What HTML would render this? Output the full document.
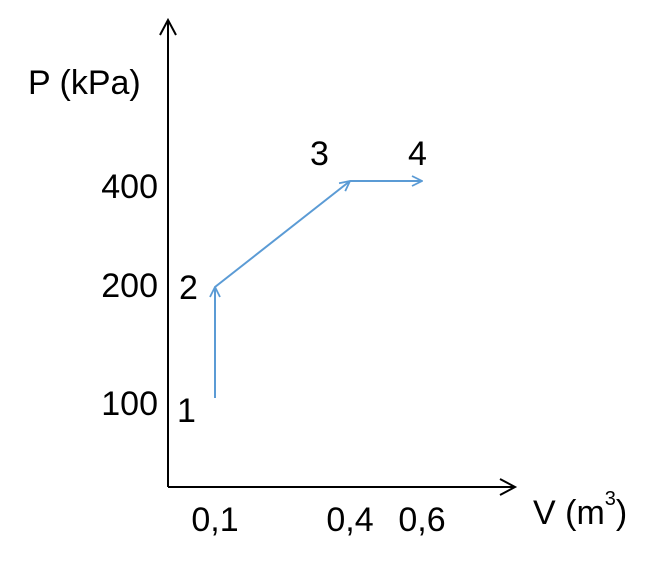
<!DOCTYPE html>
<html><head><meta charset="utf-8"><style>
html,body{margin:0;padding:0;background:#fff;}
svg{display:block;}
text{font-family:"Liberation Sans",sans-serif;font-size:34px;fill:#000;}
</style></head><body>
<svg id="chart" width="670" height="571" viewBox="0 0 670 571">
<defs>
<marker id="ah" viewBox="0 0 12 12" refX="11" refY="6" markerWidth="12" markerHeight="12" markerUnits="userSpaceOnUse" orient="auto">
<path d="M1,1 L11,6 L1,11" fill="none" stroke="#5b9bd5" stroke-width="1.8"/>
</marker>
</defs>
<g>
<line x1="168" y1="487" x2="168" y2="20" stroke="#000" stroke-width="2"/>
<path d="M160,35 L168,20 L176,35" fill="none" stroke="#000" stroke-width="2"/>
</g>
<g>
<line x1="168" y1="487" x2="515" y2="487" stroke="#000" stroke-width="2"/>
<path d="M500,479 L515,487 L500,495" fill="none" stroke="#000" stroke-width="2"/>
</g>
<text x="28" y="94">P (kPa)</text>
<text x="533" y="524">V (m<tspan dy="-19" font-size="20">3</tspan><tspan dy="19">)</tspan></text>
<g id="ticks"></g>
<g id="series"></g>
</svg>
<script>
const xTicks=[0.1,0.4,0.6];
const xTickLabels=["0,1","0,4","0,6"];
const yTicks=[100,200,400];
const yTickLabels=["100","200","400"];
const pointLabels=["1","2","3","4"];
const volumes=[0.1,0.1,0.4,0.6];
const pressures=[100,200,400,400];
const xPix=[215,350,422];
const yPix=[398,287,181];
function interp(v,ticks,pix){
  for(let i=0;i<ticks.length-1;i++){
    if(v<=ticks[i+1]||i===ticks.length-2){
      const t=(v-ticks[i])/(ticks[i+1]-ticks[i]);
      return pix[i]+t*(pix[i+1]-pix[i]);
    }
  }
  return pix[0];
}
const xScale=v=>interp(v,xTicks,xPix);
const yScale=v=>interp(v,yTicks,yPix);
const NS="http://www.w3.org/2000/svg";
const tg=document.getElementById('ticks');
xTicks.forEach((v,i)=>{
  const t=document.createElementNS(NS,'text');
  t.setAttribute('x',xScale(v));t.setAttribute('y',531);t.setAttribute('text-anchor','middle');
  t.textContent=xTickLabels[i];
  
  
  tg.appendChild(t);
});
const yOff=[17,10,17];
yTicks.forEach((v,i)=>{
  const t=document.createElementNS(NS,'text');
  t.setAttribute('x',158);t.setAttribute('y',yScale(v)+yOff[i]);t.setAttribute('text-anchor','end');
  t.textContent=yTickLabels[i];
  
  
  tg.appendChild(t);
});
const sg=document.getElementById('series');
for(let i=0;i<volumes.length-1;i++){
  const l=document.createElementNS(NS,'line');
  l.setAttribute('x1',xScale(volumes[i]));l.setAttribute('y1',yScale(pressures[i]));
  l.setAttribute('x2',xScale(volumes[i+1]));l.setAttribute('y2',yScale(pressures[i+1]));
  l.setAttribute('stroke','#5b9bd5');l.setAttribute('stroke-width','2');
  l.setAttribute('marker-end','url(#ah)');
  
  
  sg.appendChild(l);
}
const off=[[-38,24],[-36,12],[-40,-16],[-14,-16]];
pointLabels.forEach((s,i)=>{
  const t=document.createElementNS(NS,'text');
  t.setAttribute('x',xScale(volumes[i])+off[i][0]);t.setAttribute('y',yScale(pressures[i])+off[i][1]);
  t.textContent=s;
  
  
  sg.appendChild(t);
});
</script>
</body></html>
